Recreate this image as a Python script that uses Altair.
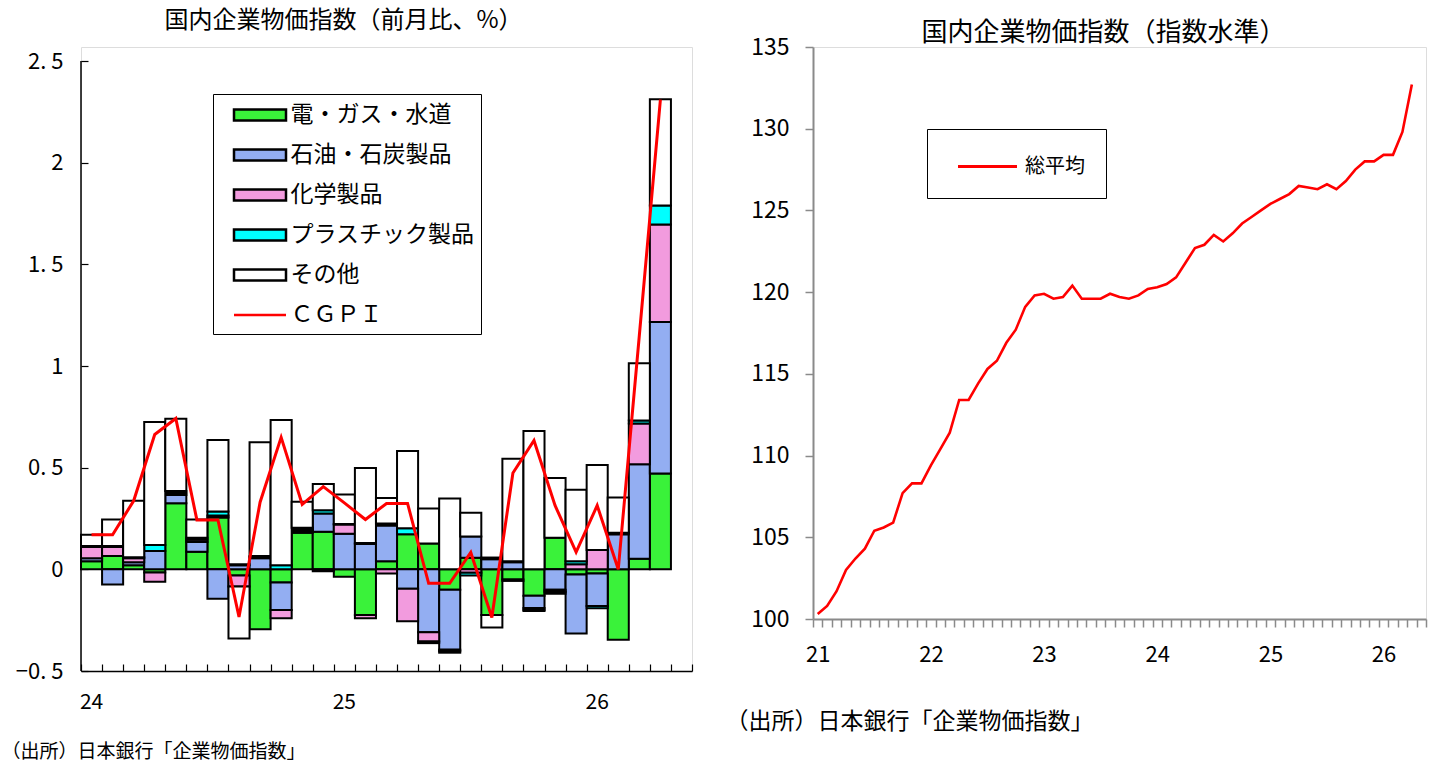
import altair as alt
import pandas as pd

FONT = "Noto Sans CJK JP"

# ---------------- left chart data (month-on-month, %) ----------------
bar_months = [f"{y}-{m:02d}" for y in (2024, 2025, 2026) for m in range(1, 13)][:29]  # 2024-01 .. 2026-05
series_names = ["電・ガス・水道", "石油・石炭製品", "化学製品", "プラスチック製品", "その他"]
series_colors = ["#3af23a", "#93aef2", "#f29bde", "#00ffff", "#ffffff"]
line_name = "ＣＧＰＩ"

elec = [0.04, 0.065, 0.02, -0.016, 0.325, 0.087, 0.255, -0.03, -0.295, -0.065, 0.18, 0.185, -0.036, -0.225,
        0.04, 0.172, 0.127, -0.10, 0.057, -0.225, -0.05, -0.13, 0.155, -0.025, -0.02, -0.346, 0.052, 0.471]
oil = [0.015, -0.074, 0.015, 0.09, 0.04, 0.048, -0.145, 0.02, 0.055, -0.135, 0.01, 0.09, 0.175, 0.125,
       0.175, -0.095, -0.31, -0.295, 0.105, 0.05, 0.035, -0.06, -0.10, -0.29, -0.16, 0.172, 0.465, 0.745]
chem = [0.055, 0.045, 0.02, -0.045, 0.01, 0.01, 0.01, -0.055, 0.005, -0.04, 0.005, -0.01, 0.045, -0.015,
        -0.02, -0.16, -0.045, -0.008, -0.017, 0.005, -0.007, -0.01, -0.01, 0.025, 0.095, 0.0, 0.2, 0.48]
plastic = [0.005, 0.005, 0.005, 0.03, 0.01, 0.01, 0.02, 0.005, 0.005, 0.02, 0.01, 0.015, 0.003, 0.005,
           0.01, 0.03, -0.008, -0.007, -0.013, 0.003, 0.005, -0.005, -0.01, 0.015, -0.012, 0.008, 0.015, 0.093]
other = [0.055, 0.13, 0.277, 0.604, 0.355, 0.09, 0.351, -0.255, 0.56, 0.715, 0.127, 0.13, 0.145, 0.368,
         0.126, 0.38, 0.172, 0.348, 0.116, -0.061, 0.504, 0.68, 0.294, 0.352, 0.418, 0.173, 0.281, 0.523]
cgpi = [0.17, 0.17, 0.337, 0.663, 0.742, 0.243, 0.243, -0.234, 0.33, 0.649, 0.319, 0.407, 0.327, 0.245,
        0.324, 0.324, -0.069, -0.069, 0.083, -0.237, 0.474, 0.634, 0.314, 0.085, 0.314, 0.0, 1.15, 2.31]
left_y_ticks = [-0.5, 0, 0.5, 1, 1.5, 2, 2.5]

# ---------------- right chart data (index level) ----------------
level_months = [f"{y}-{m:02d}" for y in range(2021, 2027) for m in range(1, 13)][:65]  # 2021-01 .. 2026-05
level = [100.3, 100.8, 101.7, 103.0, 103.7, 104.3, 105.4, 105.6, 105.9, 107.7, 108.3, 108.3,
         109.4, 110.4, 111.4, 113.4, 113.4, 114.4, 115.3, 115.8, 116.9, 117.7, 119.1, 119.8,
         119.9, 119.6, 119.7, 120.4, 119.6, 119.6, 119.6, 119.9, 119.7, 119.6, 119.8, 120.2,
         120.3, 120.5, 120.9, 121.8, 122.7, 122.9, 123.5, 123.1, 123.6, 124.2, 124.6, 125.0,
         125.4, 125.7, 126.0, 126.5, 126.4, 126.3, 126.6, 126.3, 126.8, 127.5, 128.0, 128.0,
         128.4, 128.4, 129.8, 132.7]
level_name = "総平均"
right_y_ticks = [100, 105, 110, 115, 120, 125, 130, 135]
source_text = "（出所）日本銀行「企業物価指数」"

# ---------------- tables ----------------
rows = []
for k, (name, arr) in enumerate(zip(series_names, [elec, oil, chem, plastic, other])):
    for i, v in enumerate(arr):
        if v != 0:
            rows.append({"month": bar_months[i], "series": name, "value": v, "order": k})
bars_df = pd.DataFrame(rows)
cgpi_df = pd.DataFrame({"month": bar_months[:len(cgpi)], "value": cgpi})
axis_df = pd.DataFrame({"lo": [left_y_ticks[0]], "hi": [left_y_ticks[-1]]})
level_df = pd.DataFrame({"month": level_months[:len(level)], "value": level, "series": level_name})

# ---------------- left chart ----------------
L_W, L_H = 611, 624
L_YMAX = 2.5 + 14 * 3 / 610

x_scale_l = alt.Scale(domain=bar_months, paddingInner=0, paddingOuter=0)
y_scale_l = alt.Scale(domain=[-0.5, L_YMAX], nice=False, zero=False)

sym_path = "M-2,-0.42L2,-0.42L2,0.42L-2,0.42Z"
line_path = "M-2,0L2,0"
is_line = f"datum.value === '{line_name}'"

bars = alt.Chart(bars_df).mark_bar(stroke="black", strokeWidth=2).encode(
    x=alt.X("month:O", scale=x_scale_l,
            axis=alt.Axis(title=source_text, titleX=-80, titleY=80, titleAlign="left",
                          titleAnchor="start", titleBaseline="middle", titleFontSize=19,
                          titleFontWeight="normal", titleColor="black",
                          ticks=False, domainColor="black", domainWidth=1.5,
                          labelExpr="substring(datum.value, 5) == '01' ? substring(datum.value, 2, 4) : ''",
                          labelAngle=0, labelFontSize=21, labelPadding=20, labelColor="black",
                          labelOverlap=False, labelFont=FONT, titleFont=FONT)),
    y=alt.Y("value:Q", stack="zero", scale=y_scale_l,
            axis=alt.Axis(values=left_y_ticks, ticks=False, domain=False, grid=False, title=None,
                          labelExpr="datum.value == 0 ? '0' : replace(format(datum.value, '.1~f'), '.', '. ')",
                          labelFontSize=22, labelPadding=18, labelColor="black",
                          minExtent=80, maxExtent=80, labelFont=FONT)),
    color=alt.Color("series:N",
                    scale=alt.Scale(domain=series_names + [line_name], range=series_colors + ["#ff0000"]),
                    legend=alt.Legend(title=None, orient="none", legendX=132, legendY=47,
                                      direction="vertical", fillColor="white", strokeColor="black",
                                      padding=6.5, symbolOffset=26, labelOffset=16, rowPadding=13,
                                      labelFontSize=23, labelFont=FONT, labelColor="black", labelLimit=400,
                                      symbolSize=676,
                                      symbolType=alt.ExprRef(expr=f"{is_line} ? '{line_path}' : '{sym_path}'"),
                                      symbolStrokeColor=alt.ExprRef(expr=f"{is_line} ? '#ff0000' : 'black'"),
                                      symbolStrokeWidth=2.5)),
    order=alt.Order("order:Q"),
)

cgpi_line = alt.Chart(cgpi_df).mark_line(color="#ff0000", strokeWidth=3).encode(
    x=alt.X("month:O", scale=x_scale_l,
            axis=alt.Axis(orient="bottom", domain=False, labels=False, ticks=True, tickBand="extent",
                          tickSize=7, offset=-7, tickColor="black", tickWidth=1.2, title=None, grid=False)),
    y=alt.Y("value:Q", scale=y_scale_l,
            axis=alt.Axis(orient="left", values=left_y_ticks, domain=False, labels=False, ticks=True,
                          tickSize=7, offset=-7, tickColor="black", tickWidth=1.2, title=None, grid=False)),
)

axis_line = alt.Chart(axis_df).mark_rule(color="black", strokeWidth=1.5).encode(
    y=alt.Y("lo:Q", scale=y_scale_l, axis=None), y2="hi:Q", x=alt.value(0),
)

left = alt.layer(bars, cgpi_line, axis_line).resolve_axis(x="independent", y="independent").properties(
    width=L_W, height=L_H,
    title=alt.Title("国内企業物価指数（前月比、%）", fontSize=24, fontWeight="normal", color="black",
                    font=FONT, anchor="middle", dx=-43, offset=14),
)

# ---------------- right chart ----------------
GRAY = "#8a8a8a"
right = alt.Chart(level_df).mark_line(strokeWidth=2.6).encode(
    x=alt.X("month:O", scale=alt.Scale(domain=level_months, paddingInner=0, paddingOuter=0),
            axis=alt.Axis(title=source_text, titleX=-88, titleY=102, titleAlign="left",
                          titleAnchor="start", titleBaseline="middle", titleFontSize=23,
                          titleFontWeight="normal", titleColor="black", titleFont=FONT,
                          tickBand="extent", tickSize=8, tickColor=GRAY, tickWidth=1.5,
                          domainColor=GRAY, domainWidth=2,
                          labelExpr="substring(datum.value, 5) == '01' ? substring(datum.value, 2, 4) : ''",
                          labelAngle=0, labelFontSize=22, labelPadding=17, labelColor="black",
                          labelOverlap=False, labelFont=FONT)),
    y=alt.Y("value:Q", scale=alt.Scale(domain=[100, 135], nice=False, zero=False),
            axis=alt.Axis(values=right_y_ticks, tickSize=8, tickColor=GRAY, tickWidth=1.5,
                          domainColor=GRAY, domainWidth=2, grid=False, title=None,
                          labelFontSize=23, labelPadding=16, labelColor="black", labelFont=FONT,
                          minExtent=58, maxExtent=58)),
    color=alt.Color("series:N", scale=alt.Scale(domain=[level_name], range=["#ff0000"]),
                    legend=alt.Legend(title=None, orient="none", legendX=114, legendY=82,
                                      fillColor="white", strokeColor="black", padding=21,
                                      symbolOffset=23, labelOffset=21, labelFontSize=20, labelFont=FONT,
                                      labelColor="black", symbolType=line_path, symbolSize=870,
                                      symbolStrokeWidth=3)),
).properties(
    width=613, height=572,
    title=alt.Title("国内企業物価指数（指数水準）", fontSize=26, fontWeight="normal", color="black",
                    font=FONT, anchor="middle", dx=-16, offset=-10),
)

chart = alt.hconcat(left, right, spacing=30).resolve_scale(color="independent").resolve_legend(
    color="independent"
).properties(
    padding={"left": 0, "top": 8, "right": 0, "bottom": 0}
).configure_view(stroke=None).configure(font=FONT)

chart.save("out.html", embed_options={"renderer": "svg", "actions": False})
